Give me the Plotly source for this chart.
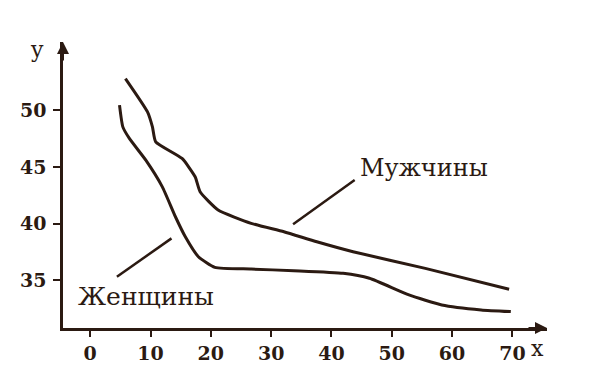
import plotly.graph_objects as go

# Data
men_x = [5.84, 9.50, 10.32, 10.86, 15.23, 17.40, 18.22, 21.21, 26.68, 32.12, 37.57, 43.58, 55.56, 69.46]
men_y = [52.82, 49.87, 48.55, 47.23, 45.76, 44.14, 42.82, 41.21, 40.03, 39.28, 38.40, 37.52, 36.05, 34.20]

women_x = [4.86, 5.41, 6.49, 9.22, 11.96, 14.13, 15.77, 17.94, 20.67, 26.68, 33.76, 41.94, 46.30, 52.85, 58.29, 64.83, 69.74]
women_y = [50.47, 48.55, 47.53, 45.61, 43.25, 40.61, 38.84, 37.08, 36.14, 35.99, 35.84, 35.61, 35.17, 33.70, 32.82, 32.38, 32.23]

x_ticks = [0, 10, 20, 30, 40, 50, 60, 70]
y_ticks = [35, 40, 45, 50]

label_men = "Мужчины"
label_women = "Женщины"

INK = "#2b1a12"
XR = [-4.51, 75.74]
YR = [30.78, 56.05]

fig = go.Figure()
fig.add_trace(go.Scatter(x=men_x, y=men_y, mode="lines",
                         line=dict(color=INK, width=3, shape="spline", smoothing=0.5),
                         hoverinfo="skip", showlegend=False))
fig.add_trace(go.Scatter(x=women_x, y=women_y, mode="lines",
                         line=dict(color=INK, width=3, shape="spline", smoothing=0.5),
                         hoverinfo="skip", showlegend=False))

tickfont = dict(family="DejaVu Serif", size=19, color=INK, weight="bold")

# figure sized to fit inside the page's default 8px body margin
fig.update_layout(
    width=583, height=372,
    margin=dict(l=48, r=44.3, t=33.7, b=52),
    paper_bgcolor="white", plot_bgcolor="white",
    showlegend=False,
    xaxis=dict(range=XR, tickvals=x_ticks, ticktext=[str(v) for v in x_ticks],
               showgrid=False, zeroline=False, showline=True, linecolor=INK, linewidth=2.5,
               ticks="outside", ticklen=6, tickwidth=2, tickcolor=INK,
               tickfont=tickfont, ticklabelstandoff=0),
    yaxis=dict(range=YR, tickvals=y_ticks, ticktext=[str(v) for v in y_ticks],
               showgrid=False, zeroline=False, showline=True, linecolor=INK, linewidth=2.5,
               ticks="outside", ticklen=7, tickwidth=2, tickcolor=INK,
               tickfont=tickfont, ticklabelstandoff=3),
)

# axis arrowheads
fig.add_annotation(x=1.0, y=0, xref="paper", yref="paper", ax=-20, ay=0,
                   showarrow=True, arrowhead=2, arrowsize=1.2, arrowwidth=2, arrowcolor=INK, text="")
fig.add_annotation(x=0, y=1.0, xref="paper", yref="paper", ax=0, ay=20,
                   showarrow=True, arrowhead=2, arrowsize=1.2, arrowwidth=2, arrowcolor=INK, text="")

# axis names
fig.add_annotation(x=1.0, y=0, xref="paper", yref="paper", xshift=-10, yshift=-20,
                   xanchor="center", yanchor="middle",
                   text="x", showarrow=False, font=dict(family="DejaVu Serif", size=22, color=INK))
fig.add_annotation(x=0, y=1.0, xref="paper", yref="paper", xshift=-26, yshift=-7,
                   xanchor="center", yanchor="middle",
                   text="y", showarrow=False, font=dict(family="DejaVu Serif", size=22, color=INK))

# curve labels with leader lines
fig.add_annotation(x=55.35, y=44.9, text=label_men, showarrow=False,
                   font=dict(family="DejaVu Serif", size=24, color=INK))
fig.add_annotation(x=9.22, y=33.52, text=label_women, showarrow=False,
                   font=dict(family="DejaVu Serif", size=25, color=INK))
fig.add_shape(type="line", x0=43.85, y0=43.85, x1=33.64, y1=39.94, line=dict(color=INK, width=2.5))
fig.add_shape(type="line", x0=13.48, y0=38.70, x1=4.43, y1=35.31, line=dict(color=INK, width=2.5))

fig.write_html("out.html")
